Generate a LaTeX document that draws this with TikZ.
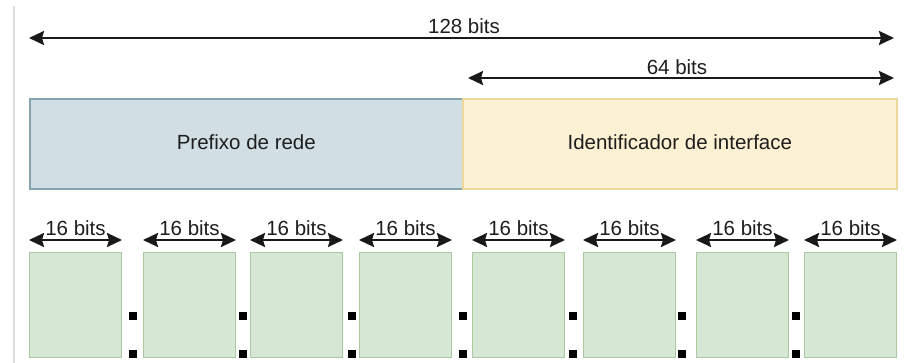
\documentclass[tikz,border=0pt]{standalone}
\usepackage{fontspec}
\setmainfont{Liberation Sans}
\usetikzlibrary{arrows.meta}
\definecolor{bluefill}{HTML}{D1DFE5}
\definecolor{blueline}{HTML}{86A3B0}
\definecolor{yelfill}{HTML}{FDF1D3}
\definecolor{yelline}{HTML}{EBD89A}
\definecolor{grnfill}{HTML}{D6E8D3}
\definecolor{grnline}{HTML}{A9C9A3}
\definecolor{txt}{HTML}{1E1E1E}
\tikzset{
  lbl/.style={font=\fontsize{20.5}{24}\selectfont, text=txt, inner sep=0pt, anchor=base},
  tip/.tip={Stealth[length=15pt,width=14pt,inset=2pt]},
  dimarrow/.style={line width=2.2pt, black!90, tip-tip},
  bigbox/.style={draw, line width=1.6pt, minimum height=90pt, inner sep=0pt},
  grnbox/.style={draw=grnline, fill=grnfill, line width=1pt, minimum width=92pt, minimum height=105pt, inner sep=0pt, anchor=north west},
  dot/.style={fill=black, minimum size=8pt, inner sep=0pt},
}
\begin{document}
\begin{tikzpicture}[x=1pt,y=-1pt]
\useasboundingbox (0,0) rectangle (907,363);
\fill[white] (0,0) rectangle (907,363);
\draw[line width=1.5pt, gray!25] (14,6) -- (14,363);
% top arrows
\coordinate (a128l) at (29,38);
\coordinate (a128r) at (894,38);
\draw[dimarrow] (a128l) -- (a128r);
\node[lbl] (t128) at (464,34) {128 bits};
\coordinate (a64l) at (468,78);
\coordinate (a64r) at (894,78);
\draw[dimarrow] (a64l) -- (a64r);
\node[lbl] (t64) at (677,75) {64 bits};
% big boxes
\node[bigbox, draw=blueline, fill=bluefill, minimum width=433pt, anchor=north west] (pref) at (29,98) {};
\node[bigbox, draw=yelline, fill=yelfill, minimum width=434pt, anchor=north west] (iid) at (462,98) {};
\node[lbl] (tpref) at ([yshift=-6pt]pref.center) {Prefixo de rede};
\node[lbl] (tiid) at ([yshift=-6pt]iid.center) {Identificador de interface};
% green boxes
\foreach \i/\x in {1/29,2/143,3/250,4/359,5/472,6/583,7/696,8/804}{
  \node[grnbox] (g\i) at (\x,252) {};
  \draw[dimarrow] ([yshift=12pt]g\i.north west) -- ([yshift=12pt]g\i.north east);
  \node[lbl] (l\i) at ([yshift=16pt]g\i.north) {16 bits};
}
% colons
\foreach \j/\x in {1/133,2/243,3/352,4/463,5/573,6/682,7/796}{
  \node[dot] (ct\j) at (\x,316) {};
  \node[dot] (cb\j) at (\x,354) {};
}
\end{tikzpicture}
\end{document}
